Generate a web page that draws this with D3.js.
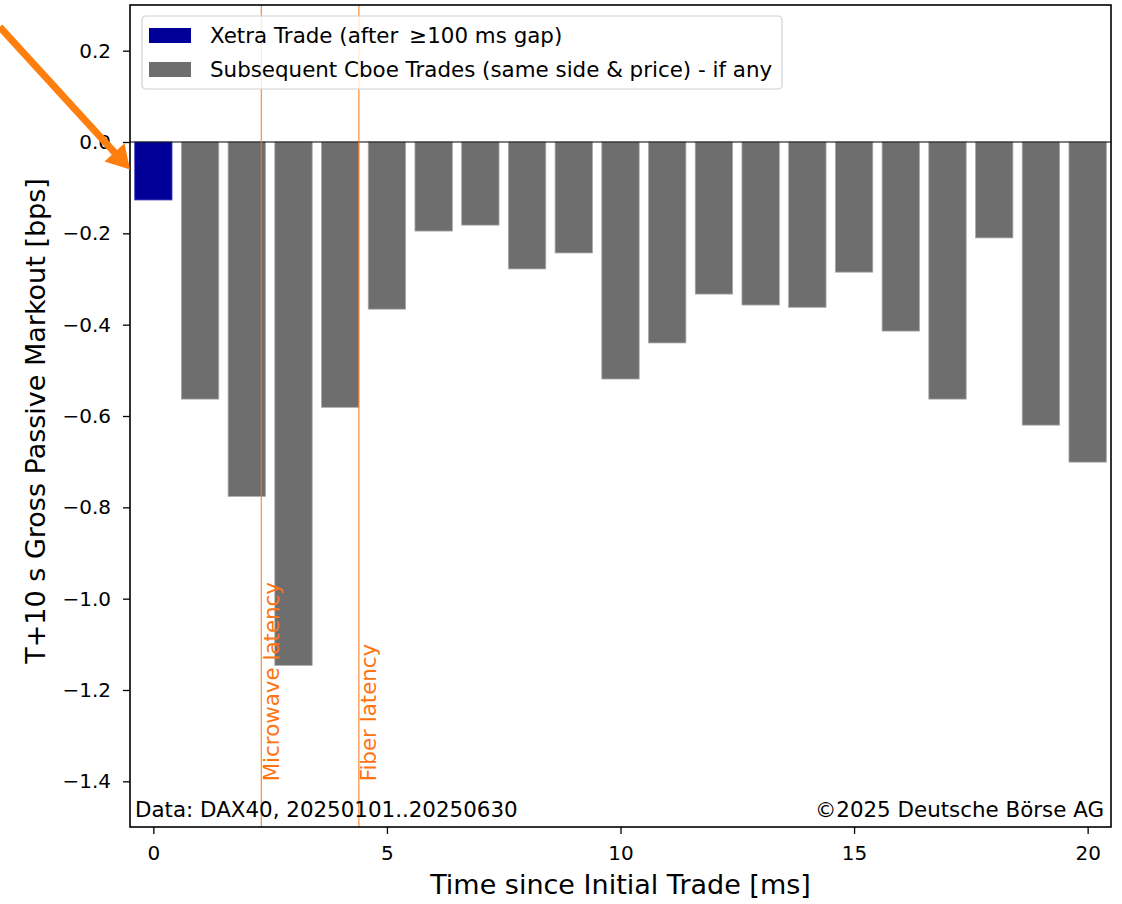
<!DOCTYPE html>
<html>
<head>
<meta charset="utf-8">
<script src="https://cdn.jsdelivr.net/npm/d3@7"></script>
<style>
  html, body { margin: 0; padding: 0; background: #fff; }
  svg { display: block; font-family: "DejaVu Sans", sans-serif; }
</style>
</head>
<body>
<svg id="chart" width="1122" height="904"></svg>
<script>
// Markout per millisecond bucket after the initial trade
const timesMs = [0, 1, 2, 3, 4, 5, 6, 7, 8, 9, 10, 11, 12, 13, 14, 15, 16, 17, 18, 19, 20];
const markoutBps = [-0.127, -0.563, -0.776, -1.146, -0.581, -0.366, -0.195, -0.182, -0.278, -0.243,
                    -0.519, -0.440, -0.333, -0.357, -0.362, -0.285, -0.414, -0.563, -0.210, -0.620, -0.701];
const seriesNames = ["Xetra Trade (after \u2009\u2265100 ms gap)", "Subsequent Cboe Trades (same side & price) - if any"];
const latencyMarks = [{ name: "Microwave latency", ms: 2.31 }, { name: "Fiber latency", ms: 4.40 }];
const yTicks = [0.2, 0.0, -0.2, -0.4, -0.6, -0.8, -1.0, -1.2, -1.4];
const xTicks = [0, 5, 10, 15, 20];
const footerLeft = "Data: DAX40, 20250101..20250630";
const footerRight = "\u00A92025 Deutsche B\u00F6rse AG";
const xLabel = "Time since Initial Trade [ms]";
const yLabel = "T+10 s Gross Passive Markout [bps]";

const colXetra = "#000099", colCboe = "#6e6e6e", colOrange = "#ff7410";

const svg = d3.select("#chart");
const m = { left: 130, right: 1111, top: 5, bottom: 827 };

const x = d3.scaleLinear().domain([-0.5, 20.5]).range([m.left, m.right]);
const y = d3.scaleLinear().domain([-1.5, 0.3]).range([m.bottom, m.top]);
const barW = x(0.8) - x(0);

const fmt = v => (v < 0 ? "\u2212" : "") + Math.abs(v).toFixed(1);

// bars
svg.append("g").selectAll("rect").data(timesMs).join("rect")
  .attr("x", d => x(d - 0.4))
  .attr("width", barW)
  .attr("y", (d, i) => y(Math.max(0, markoutBps[i])))
  .attr("height", (d, i) => Math.abs(y(markoutBps[i]) - y(0)))
  .attr("fill", (d, i) => i === 0 ? colXetra : colCboe)
  .attr("stroke", (d, i) => i === 0 ? "#4d4dc0" : "#a8a8a8")
  .attr("stroke-width", 0.8);

// zero line
svg.append("line")
  .attr("x1", m.left).attr("x2", m.right)
  .attr("y1", y(0)).attr("y2", y(0))
  .attr("stroke", "#000").attr("stroke-width", 1);

// latency reference lines with labels
const lat = svg.append("g");
latencyMarks.forEach(l => {
  lat.append("line")
    .attr("x1", x(l.ms)).attr("x2", x(l.ms))
    .attr("y1", m.top).attr("y2", m.bottom)
    .attr("stroke", colOrange).attr("stroke-width", 1);
  lat.append("text")
    .attr("transform", `translate(${x(l.ms) + 17.5},${y(-1.4)}) rotate(-90)`)
    .attr("fill", colOrange)
    .attr("font-size", 21.4)
    .text(l.name);
});

// axes
const yAxis = d3.axisLeft(y).tickValues(yTicks).tickFormat(fmt).tickSize(7).tickPadding(12);
const gy = svg.append("g").attr("transform", `translate(${m.left},0)`).call(yAxis);
const xAxis = d3.axisBottom(x).tickValues(xTicks).tickFormat(d3.format("d")).tickSize(7).tickPadding(12);
const gx = svg.append("g").attr("transform", `translate(0,${m.bottom})`).call(xAxis);
[gx, gy].forEach(g => {
  g.select(".domain").remove();
  g.selectAll(".tick line").attr("stroke", "#000").attr("stroke-width", 1.3);
  g.selectAll(".tick text").attr("font-size", 20).attr("fill", "#000")
    .attr("font-family", "DejaVu Sans, sans-serif");
});

// frame
svg.append("rect")
  .attr("x", m.left).attr("y", m.top)
  .attr("width", m.right - m.left).attr("height", m.bottom - m.top)
  .attr("fill", "none").attr("stroke", "#000").attr("stroke-width", 1.6);

// axis titles
svg.append("text")
  .attr("x", (m.left + m.right) / 2).attr("y", 894)
  .attr("text-anchor", "middle").attr("font-size", 27).text(xLabel);
svg.append("text")
  .attr("transform", `translate(45,${(m.top + m.bottom) / 2 + 5}) rotate(-90)`)
  .attr("text-anchor", "middle").attr("font-size", 27).text(yLabel);

// footer notes inside the plot
svg.append("text").attr("x", m.left + 5).attr("y", m.bottom - 10)
  .attr("font-size", 21.4).text(footerLeft);
svg.append("text").attr("x", m.right - 7).attr("y", m.bottom - 10)
  .attr("text-anchor", "end").attr("font-size", 21.4).text(footerRight);

// legend
const lg = svg.append("g").attr("transform", `translate(${m.left + 12},${m.top + 11})`);
lg.append("rect").attr("width", 640).attr("height", 73).attr("rx", 4)
  .attr("fill", "rgba(255,255,255,0.8)").attr("stroke", "#d0d0d0").attr("stroke-width", 1.2);
seriesNames.forEach((name, i) => {
  lg.append("rect").attr("x", 7).attr("y", 12 + i * 34).attr("width", 42).attr("height", 15)
    .attr("fill", i === 0 ? colXetra : colCboe);
  lg.append("text").attr("x", 68).attr("y", 27 + i * 34).attr("font-size", 21.4).text(name);
});

// arrow pointing to the initial Xetra trade bar
const tip = [x(-0.5), y(-0.06)];
const tail = [x(-3.29), y(0.252)];
const ang = Math.atan2(tip[1] - tail[1], tip[0] - tail[0]);
const headLen = 23, headHalf = 13.5, shaftHalf = 3.6;
const len = Math.hypot(tip[0] - tail[0], tip[1] - tail[1]);
const pts = [
  [0, -shaftHalf], [len - headLen, -shaftHalf], [len - headLen, -headHalf], [len, 0],
  [len - headLen, headHalf], [len - headLen, shaftHalf], [0, shaftHalf]
].map(([u, v]) => [tail[0] + u * Math.cos(ang) - v * Math.sin(ang), tail[1] + u * Math.sin(ang) + v * Math.cos(ang)]);
svg.append("path").attr("d", d3.line()(pts) + "Z").attr("fill", "#ff7f0e");
</script>
</body>
</html>
